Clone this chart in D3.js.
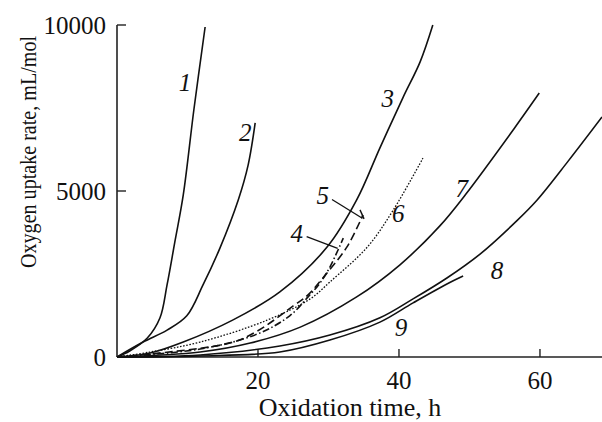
<!DOCTYPE html>
<html>
<head>
<meta charset="utf-8">
<script src="https://cdn.jsdelivr.net/npm/d3@7"></script>
<style>
  body { margin: 0; background: #fff; }
  svg { display: block; }
  text { font-family: "Liberation Serif", "Times New Roman", serif; fill: #111; }
</style>
</head>
<body>
<svg id="chart" width="602" height="422"></svg>
<script>
"use strict";

// curves: [time h, uptake mL/mol]
const curve1 = [[0,0],[1.8,180],[4.3,570],[6.1,1180],[7.1,2170],[8.2,3460],[9.4,4880],[10.9,7440],[12.5,9940]];
const curve2 = [[0,0],[3.7,450],[7.1,810],[9.9,1240],[12.2,2170],[14.6,3280],[17.2,4730],[18.6,5780],[19.6,7050]];
const curve3 = [[0,0],[4.7,120],[9.4,450],[16.4,1110],[23.1,1960],[29.8,3310],[34.0,4730],[37.3,6300],[40.6,7830],[43.0,8890],[44.8,10000]];
const curve4 = [[0,0],[11.8,240],[19.9,690],[24.5,1240],[27.1,1810],[28.8,2230],[30.2,2710],[32.1,3580]];
const curve5 = [[0,0],[16.0,420],[19.9,780],[25.0,1540],[27.1,1870],[29.2,2380],[32.6,3310],[34.9,4280]];
const curve6 = [[0,0],[4.7,150],[11.8,450],[21.3,1110],[27.4,1750],[30.2,2260],[35.5,3310],[39.2,4430],[43.4,5990]];
const curve7 = [[0,0],[11.8,150],[18.9,420],[26.0,900],[34.0,1810],[40.1,2770],[45.8,3950],[49.5,4910],[56.2,6840],[59.9,7950]];
const curve8 = [[0,0],[11.8,60],[23.1,330],[30.2,660],[37.3,1180],[42.0,1750],[46.8,2380],[51.5,3100],[56.7,4100],[59.6,4730],[64.0,5900],[68.8,7230]];
const curve9 = [[0,0],[11.8,30],[23.1,150],[30.2,510],[37.3,1050],[42.0,1630],[46.8,2200],[49.1,2440]];

const curveNames = ["1","2","3","4","5","6","7","8","9"];
const curveData = [curve1, curve2, curve3, curve4, curve5, curve6, curve7, curve8, curve9];
const curveDash = [null, null, null, "7,2.5,1.5,2.5", "8,4", "1.6,1.6", null, null, null];

// label spots in data units
const labelAt = [[9.65,8280],[18.2,6770],[38.4,7800],[25.5,3720],[29.2,4860],[39.9,4320],[48.9,5080],[53.9,2600],[40.3,910]];
// leader lines for 4 and 5
const leaders = [
    [[26.9,3625],[31.3,3270]],
    [[30.5,4745],[34.8,4180]]
];

const xTicks = [20, 40, 60];
const yTicks = [0, 5000, 10000];

const svg = d3.select("#chart");

const x = d3.scaleLinear().domain([0, 68.8]).range([117, 602]);
const y = d3.scaleLinear().domain([0, 10000]).range([357, 25]);

// axes
svg.append("line")
    .attr("x1", x(0)).attr("x2", x(0))
    .attr("y1", y(10000)).attr("y2", y(0))
    .attr("stroke", "#222").attr("stroke-width", 1.6);
svg.append("line")
    .attr("x1", x(0)).attr("x2", 602)
    .attr("y1", y(0)).attr("y2", y(0))
    .attr("stroke", "#222").attr("stroke-width", 1.6);

svg.selectAll(".ytick").data(yTicks).join("line")
    .attr("x1", x(0)).attr("x2", x(0) + 9)
    .attr("y1", d => y(d)).attr("y2", d => y(d))
    .attr("stroke", "#222").attr("stroke-width", 1.4);
svg.selectAll(".ylab").data(yTicks).join("text")
    .attr("x", 106).attr("y", d => y(d))
    .attr("dy", "0.34em")
    .attr("text-anchor", "end")
    .style("font-size", "25px")
    .text(d => d);

svg.selectAll(".xtick").data(xTicks).join("line")
    .attr("x1", d => x(d)).attr("x2", d => x(d))
    .attr("y1", y(0)).attr("y2", y(0) - 8)
    .attr("stroke", "#222").attr("stroke-width", 1.4);
svg.selectAll(".xlab").data(xTicks).join("text")
    .attr("x", d => x(d)).attr("y", 389)
    .attr("text-anchor", "middle")
    .style("font-size", "25px")
    .text(d => d);

svg.append("text")
    .attr("x", 350).attr("y", 416)
    .attr("text-anchor", "middle")
    .style("font-size", "26px")
    .text("Oxidation time, h");

svg.append("text")
    .attr("transform", "translate(36,152) rotate(-90)")
    .attr("text-anchor", "middle")
    .attr("textLength", 232)
    .attr("lengthAdjust", "spacingAndGlyphs")
    .style("font-size", "23px")
    .text("Oxygen uptake rate, mL/mol");

// curves
const line = d3.line()
    .x(d => x(d[0]))
    .y(d => y(d[1]))
    .curve(d3.curveCatmullRom.alpha(0.5));

svg.selectAll(".curve").data(curveData).join("path")
    .attr("d", line)
    .attr("fill", "none")
    .attr("stroke", "#111")
    .attr("stroke-width", (d, i) => i == 5 ? 1.3 : 1.6)
    .attr("stroke-dasharray", (d, i) => curveDash[i]);

// end cap on curve 5
const c5 = curve5[curve5.length - 1];
svg.append("line")
    .attr("x1", x(c5[0]) - 3).attr("x2", x(c5[0]) + 1)
    .attr("y1", y(c5[1]) - 5).attr("y2", y(c5[1]) + 4)
    .attr("stroke", "#111").attr("stroke-width", 1.4);

svg.selectAll(".leader").data(leaders).join("line")
    .attr("x1", d => x(d[0][0])).attr("y1", d => y(d[0][1]))
    .attr("x2", d => x(d[1][0])).attr("y2", d => y(d[1][1]))
    .attr("stroke", "#111").attr("stroke-width", 1.3);

svg.selectAll(".clab").data(curveNames).join("text")
    .attr("x", (d, i) => x(labelAt[i][0]))
    .attr("y", (d, i) => y(labelAt[i][1]))
    .attr("dy", "0.35em")
    .attr("text-anchor", "middle")
    .style("font-size", "25px")
    .style("font-style", "italic")
    .text(d => d);
</script>
</body>
</html>
